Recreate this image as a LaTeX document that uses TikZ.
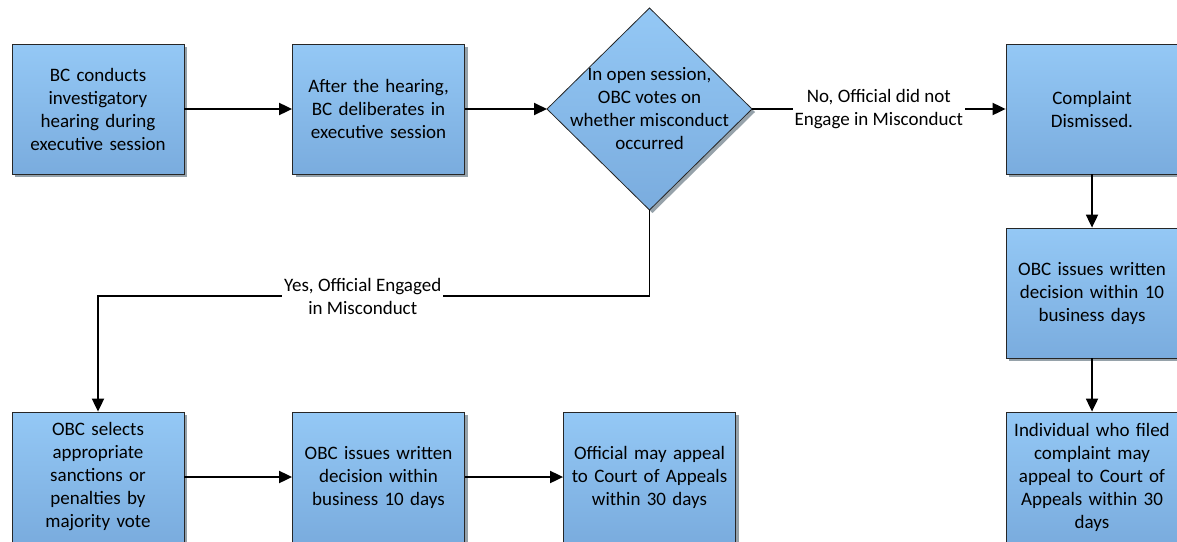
\documentclass[tikz,border=0pt]{standalone}
\usepackage{fontspec}
\setmainfont{Carlito}
\usetikzlibrary{arrows.meta,shapes.geometric,shadows}
\definecolor{boxtop}{RGB}{148,200,245}
\definecolor{boxbot}{RGB}{122,172,222}
\definecolor{shadowc}{RGB}{150,162,170}
\tikzset{
  x=1pt,y=-1pt,
  txt/.style={font=\fontsize{19}{23}\selectfont, align=center},
  flowbox/.style={rectangle, draw=black!85, line width=0.8pt, top color=boxtop, bottom color=boxbot,
    minimum width=172pt, minimum height=130pt, inner sep=2pt, txt, text width=166pt,
    drop shadow={shadow xshift=3pt, shadow yshift=-3pt, fill=shadowc, opacity=1}},
  decision/.style={diamond, draw=black!85, line width=0.8pt, top color=boxtop, bottom color=boxbot,
    minimum width=205pt, minimum height=202pt, inner sep=0pt, outer sep=0pt,
    drop shadow={shadow xshift=3pt, shadow yshift=-3pt, fill=shadowc, opacity=1}},
  conn/.style={line width=1.9pt, -{Triangle[length=13pt,width=12pt]}},
  lbl/.style={fill=white, inner sep=2pt, txt}
}
\begin{document}
\begin{tikzpicture}
\useasboundingbox (0,0) rectangle (1177,541);
\clip (0,0) rectangle (1177,541);
\node[flowbox] (b1) at (98,109) {BC conducts\\investigatory\\hearing during\\executive session};
\node[flowbox] (b2) at (378.5,109) {After the hearing,\\BC deliberates in\\executive session};
\node[decision] (d) at (649.5,109) {};
\node[txt] (dt) at (d.center) {In open session,\\OBC votes on\\whether misconduct\\occurred};
\node[flowbox] (c) at (1092,109) {Complaint\\Dismissed.};
\node[flowbox] (r2) at (1092,293) {OBC issues written\\decision within 10\\business days};
\node[flowbox] (r3) at (1092,477) {Individual who filed\\complaint may\\appeal to Court of\\Appeals within 30\\days};
\node[flowbox] (s1) at (98,477) {OBC selects\\appropriate\\sanctions or\\penalties by\\majority vote};
\node[flowbox] (s2) at (378.5,477) {OBC issues written\\decision within\\business 10 days};
\node[flowbox] (s3) at (649.5,477) {Official may appeal\\to Court of Appeals\\within 30 days};
\draw[conn] (b1) -- (b2);
\draw[conn] (b2) -- (d.west);
\draw[conn] (d.east) -- node[lbl, pos=0.5] (nl) {No, Official did not\\Engage in Misconduct} (c.west);
\draw[conn] (c) -- (r2);
\draw[conn] (r2) -- (r3);
\coordinate (e1) at (649.5,296);
\coordinate (e2) at (98,296);
\draw[conn] (d.south) -- (e1) -- node[lbl, pos=0.52] (yl) {Yes, Official Engaged\\in Misconduct} (e2) -- (s1.north);
\draw[conn] (s1) -- (s2);
\draw[conn] (s2) -- (s3);
\end{tikzpicture}
\end{document}
